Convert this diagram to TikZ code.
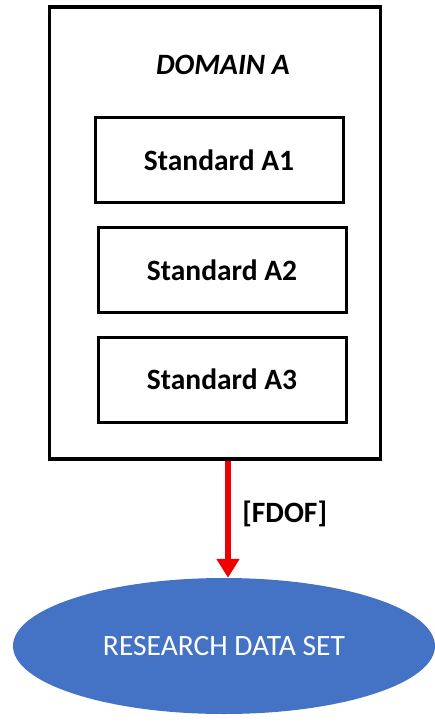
\documentclass[tikz,border=0pt]{standalone}
\usepackage{fontspec}
\setmainfont{Carlito}
\usetikzlibrary{arrows.meta,positioning,shapes.geometric}
\definecolor{myblue}{HTML}{4472C4}
\definecolor{myred}{HTML}{F00000}
\tikzset{
  domainbox/.style={draw, line width=3.5pt, minimum width=331pt, minimum height=452pt, inner sep=0pt},
  stdbox/.style={draw, line width=3pt, minimum width=248pt, minimum height=85pt, inner sep=0pt,
                 font=\fontsize{29.5}{34}\selectfont\bfseries},
  dataset/.style={ellipse, fill=myblue, minimum width=422pt, minimum height=136pt, inner sep=0pt,
                  text=white, font=\fontsize{29.5}{34}\selectfont},
  arr/.style={-{Triangle[length=19pt, width=22pt]}, line width=6pt, myred},
  lab/.style={font=\fontsize{29.5}{34}\selectfont\bfseries},
}
\begin{document}
\begin{tikzpicture}[x=1pt, y=-1pt]
  \useasboundingbox (0,0) rectangle (435,723);
  \node[domainbox] (dom) at (215,233) {};
  \node[font=\fontsize{29.5}{34}\selectfont\bfseries\itshape] (title) at (223,65) {DOMAIN A};
  \node[stdbox] (a1) at (219,160) {Standard A1};
  \node[stdbox] (a2) at (222,270) {Standard A2};
  \node[stdbox] (a3) at (222,379.5) {Standard A3};
  \node[dataset] (rds) at (224,646) {RESEARCH DATA SET};
  \draw[arr] (dom.south -| 228,0) -- (rds.north -| 228,0) node[pos=0.45, right=8pt, lab, black] {[FDOF]};
\end{tikzpicture}
\end{document}
